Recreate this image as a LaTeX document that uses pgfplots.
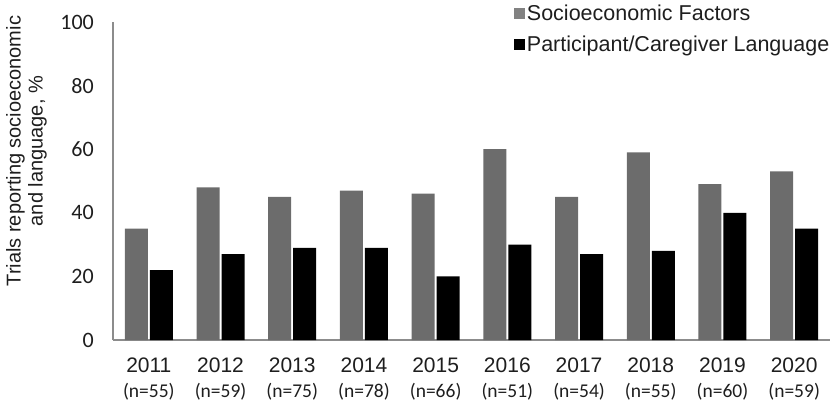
\documentclass[border=0pt]{standalone}
\usepackage{fontspec}
\setmainfont{Liberation Sans}
\newfontfamily\calib{Carlito}
\usepackage{pgfplots}
\pgfplotsset{compat=1.18}
\definecolor{sefgray}{RGB}{108,108,108}
\definecolor{axgray}{RGB}{140,140,140}
\definecolor{txt}{RGB}{30,30,30}

\begin{document}
\begin{tikzpicture}[x=1pt,y=1pt]
\begin{axis}[
  at={(0,0)}, anchor=south west,
  scale only axis, width=717pt, height=318pt,
  ymin=0, ymax=100, xmin=-0.5, xmax=9.5,
  ybar=2pt, bar width=23pt,
  axis lines=left,
  axis line style={axgray, line width=1.2pt, -},
  major tick length=0pt,
  ytick={0,20,40,60,80,100},
  yticklabels={0,20,40,60,80,100},
  yticklabel style={font=\calib\fontsize{22}{24}\selectfont, text=txt, inner sep=0pt, xshift=-19pt},
  xtick={0,...,9},
  xticklabels={2011,2012,2013,2014,2015,2016,2017,2018,2019,2020},
  xticklabel style={text=txt, inner sep=0pt, yshift=-18pt, font=\fontsize{21}{23}\selectfont},
  extra x ticks={0,...,9},
  extra x tick labels={(n=55),(n=59),(n=75),(n=78),(n=66),(n=51),(n=54),(n=55),(n=60),(n=59)},
  extra x tick style={xticklabel style={yshift=-25pt, font=\calib\fontsize{19.5}{21}\selectfont}},
  ylabel={Trials reporting socioeconomic\\and language, \%},
  every axis y label/.style={at={(axis description cs:-0.1206,0.594)}, rotate=90,
    anchor=center, align=center, text=txt, font=\fontsize{20}{22}\selectfont},
  legend cell align=left,
  legend style={at={(axis description cs:0.5596,1.06)}, anchor=north west, draw=none, fill=none,
    inner sep=0pt, row sep=10pt, text=txt, font=\fontsize{21.5}{23}\selectfont,
    nodes={inner xsep=2pt}},
]
\addplot[fill=sefgray, draw=none,
  legend image code/.code={\fill[sefgray!85] (0pt,-5.5pt) rectangle (10.5pt,5.5pt);}]
  coordinates {(0,35) (1,48) (2,45) (3,47) (4,46) (5,60) (6,45) (7,59) (8,49) (9,53)};
\addlegendentry{Socioeconomic Factors}
\addplot[fill=black, draw=none,
  legend image code/.code={\fill[black] (0pt,-5.5pt) rectangle (10.5pt,5.5pt);}]
  coordinates {(0,22) (1,27) (2,29) (3,29) (4,20) (5,30) (6,27) (7,28) (8,40) (9,35)};
\addlegendentry{Participant/Caregiver Language}
\end{axis}
\pgfresetboundingbox
\path (-113,-62) rectangle (722,340);
\end{tikzpicture}
\end{document}
